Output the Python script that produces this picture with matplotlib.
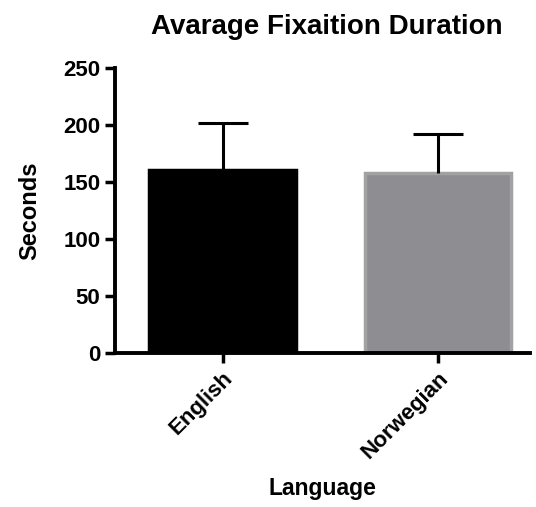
import matplotlib.pyplot as plt
import numpy as np

# Datos del grafico
idiomas = ['English', 'Norwegian']
medias = [160.5, 157.5]
errores = [41, 34.5]
colores = ['#000000', '#8e8d92']
bordes = ['#000000', '#a2a2a5']

plt.rcParams['font.family'] = ['Liberation Sans', 'DejaVu Sans']
plt.rcParams['font.weight'] = 'bold'

fig = plt.figure(figsize=(5.36, 5.07), dpi=100)
ax = fig.add_axes([0.2146, 0.3037, 0.7744, 0.5625])

x = np.arange(len(idiomas))
ax.bar(x, medias, width=0.68, color=colores, edgecolor=bordes, linewidth=2.5, zorder=2)
eb = ax.errorbar(x, medias, yerr=[np.zeros(len(errores)), errores], fmt='none',
                 ecolor='black', elinewidth=2.2, capsize=18, capthick=2.2, zorder=3)
eb[1][0].set_visible(False)  # sin tapa inferior

ax.set_xlim(-0.5, 1.43)
ax.set_ylim(0, 250)
ax.set_yticks([0, 50, 100, 150, 200, 250])
ax.set_xticks(x)
ax.set_xticklabels(idiomas, rotation=45, ha='right', rotation_mode='anchor', fontsize=16, fontweight='bold')
ax.tick_params(axis='both', width=2.5, length=7, labelsize=16)
for lab in ax.get_yticklabels():
    lab.set_fontweight('bold')

for s in ['top', 'right']:
    ax.spines[s].set_visible(False)
for s in ['left', 'bottom']:
    ax.spines[s].set_linewidth(2.8)

ax.set_ylabel('Seconds', fontsize=17, fontweight='bold', labelpad=16)
ax.set_xlabel('Language', fontsize=16.5, fontweight='bold', labelpad=10)
fig.suptitle('Avarage Fixaition Duration', fontsize=20, fontweight='bold', x=0.61, y=0.972)

fig.savefig('out.png', dpi=100)
